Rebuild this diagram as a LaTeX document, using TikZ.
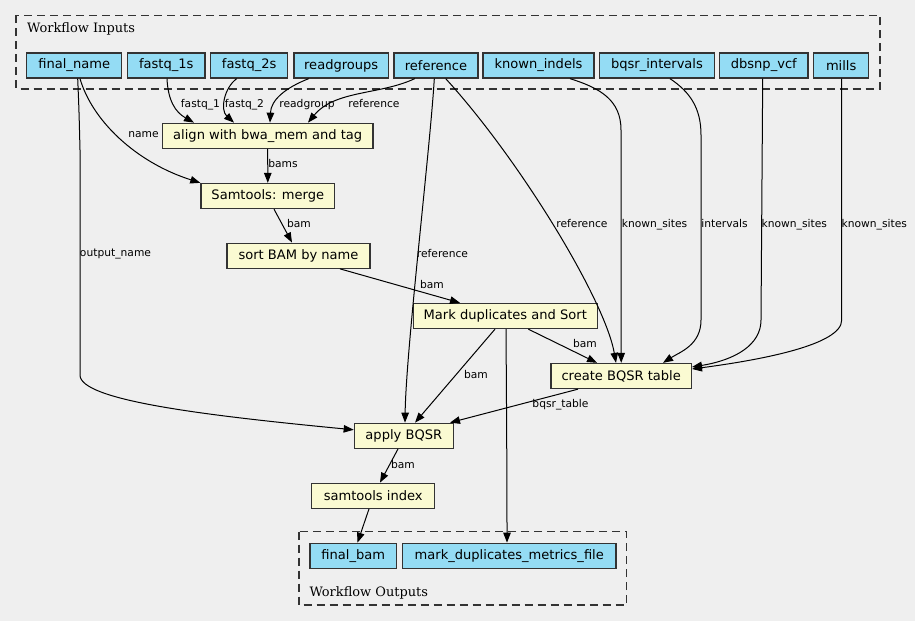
\documentclass[tikz,border=0pt]{standalone}
\usepackage{fontspec}
\setmainfont{DejaVu Sans}
\newfontfamily\clusterfont{DejaVu Serif}
\usetikzlibrary{arrows.meta,calc}
\definecolor{bgcol}{HTML}{EFEFEF}
\definecolor{inblue}{HTML}{94DCF4}
\definecolor{taskyel}{HTML}{FAFAD2}
\definecolor{bord}{HTML}{333333}
\begin{document}
\begin{tikzpicture}[x=1bp,y=-1bp,
  iobox/.style={draw=bord, line width=1.3bp, fill=inblue, minimum height=25bp, inner sep=0pt, font=\fontsize{13.1}{15}\selectfont},
  taskbox/.style={iobox, fill=taskyel},
  cluster/.style={draw=bord, line width=1.2bp, dash pattern=on 8bp off 5bp},
  edge/.style={line width=1bp, -{Triangle[length=10bp,width=7.5bp]}},
  elabel/.style={font=\fontsize{10.75}{12}\selectfont, inner sep=0pt, text height=8bp, text depth=2bp},
  clabel/.style={font=\clusterfont\fontsize{13}{15}\selectfont, inner sep=0pt, anchor=base west}]
\useasboundingbox (0,0) rectangle (915,621);
\fill[bgcol] (0,0) rectangle (915,621);

% clusters
\draw[cluster] (16,15.5) rectangle (880,89);
\node[clabel] (inlbl) at (27,32.3) {Workflow Inputs};
\draw[cluster] (299,531.7) rectangle (626.7,605);
\node[clabel] (outlbl) at (309.3,596) {Workflow Outputs};

% inputs
\node[iobox, minimum width=95bp] (fn) at (74.2,65.5) {final\_name};
\node[iobox, minimum width=77.3bp] (fq1) at (166.3,65.5) {fastq\_1s};
\node[iobox, minimum width=77bp] (fq2) at (249.2,65.5) {fastq\_2s};
\node[iobox, minimum width=94.3bp] (rg) at (341.2,65.5) {readgroups};
\node[iobox, minimum width=84bp] (ref) at (436,65.5) {reference};
\node[iobox, minimum width=111bp] (ki) at (538.5,65.5) {known\_indels};
\node[iobox, minimum width=114.6bp] (bi) at (657,65.5) {bqsr\_intervals};
\node[iobox, minimum width=88.3bp] (db) at (763.8,65.5) {dbsnp\_vcf};
\node[iobox, minimum width=55bp] (mi) at (841.2,65.5) {mills};

% tasks
\node[taskbox, minimum width=210.7bp] (align) at (267.7,135.8) {align with bwa\_mem and tag};
\node[taskbox, minimum width=133.7bp] (merge) at (267.8,196) {Samtools: merge};
\node[taskbox, minimum width=143bp] (sort) at (298.5,255.7) {sort BAM by name};
\node[taskbox, minimum width=184bp] (mdup) at (505.3,316) {Mark duplicates and Sort};
\node[taskbox, minimum width=140.3bp] (table) at (621.2,376) {create BQSR table};
\node[taskbox, minimum width=99bp] (apply) at (403.8,435.8) {apply BQSR};
\node[taskbox, minimum width=123bp] (index) at (373.2,495.8) {samtools index};

% outputs
\node[iobox, minimum width=86.7bp] (fbam) at (353.3,555.8) {final\_bam};
\node[iobox, minimum width=213.3bp] (metrics) at (509.3,555.8) {mark\_duplicates\_metrics\_file};

% edges from inputs
\draw[edge] ([xshift=3.5bp]fn.south) .. controls (79,110) .. (80,150) -- (80,375)
  .. controls (80,400) and (200,415) .. ([yshift=6bp]apply.west);
\draw[edge] ([xshift=5.8bp]fn.south) .. controls (92,120) and (135,162) .. (merge.north west);
\draw[edge] ([xshift=0.7bp]fq1.south) .. controls (168,100) and (175,112) .. ([xshift=-73.7bp]align.north);
\draw[edge] ([xshift=-12.5bp]fq2.south) .. controls (224,88) and (220,110) .. ([xshift=-33.7bp]align.north);
\draw[edge] ([xshift=-32.5bp]rg.south) .. controls (285,88) and (271,100) .. ([xshift=2.3bp]align.north);
\draw[edge] ([xshift=-21.3bp]ref.south) .. controls (380,95) and (335,90) .. ([xshift=40.3bp]align.north);
\draw[edge] ([xshift=-1.7bp]ref.south) .. controls (430,150) and (406,350) .. ([xshift=1.2bp]apply.north);
\draw[edge] ([xshift=9.7bp]ref.south) .. controls (520,160) and (605,300) .. ([xshift=-5.2bp]table.north);
\draw[edge] ([xshift=31.5bp]ki.south) .. controls (600,88) and (621,100) .. (621,130) -- (table.north);
\draw[edge] ([xshift=13bp]bi.south) .. controls (690,92) and (701,108) .. (701,135) -- (701,320)
  .. controls (701,345) and (680,352) .. ([xshift=41.8bp]table.north);
\draw[edge] ([xshift=-1.1bp]db.south) -- (761,320) .. controls (761,345) and (735,360) .. ([yshift=9bp]table.east);
\draw[edge] ([xshift=0.5bp]mi.south) -- (841.7,320) .. controls (842,345) and (760,360) .. ([yshift=7bp]table.east);

% task edges
\draw[edge] (align.south) -- (merge.north);
\draw[edge] ([xshift=6.2bp]merge.south) -- ([xshift=-6.5bp]sort.north);
\draw[edge] ([xshift=41.5bp]sort.south) -- ([xshift=-45.3bp]mdup.north);
\draw[edge] ([xshift=23bp]mdup.south) -- ([xshift=-24.2bp]table.north);
\draw[edge] ([xshift=-10.3bp]mdup.south) -- ([xshift=11.2bp]apply.north);
\draw[edge] ([xshift=0.7bp]mdup.south) .. controls (506.5,400) and (507,480) .. ([xshift=-2.3bp]metrics.north);
\draw[edge] ([xshift=-43.2bp]table.south) -- ([xshift=46.2bp]apply.north);
\draw[edge] ([xshift=-5.8bp]apply.south) -- ([xshift=6.8bp]index.north);
\draw[edge] ([xshift=-4.2bp]index.south) -- ([xshift=4.2bp]fbam.north);

% edge labels
\node[elabel] (l1) at (115.5,254) {output\_name};
\node[elabel] (l2) at (143.5,135) {name};
\node[elabel] (l3) at (200.5,105) {fastq\_1};
\node[elabel] (l4) at (244.5,105) {fastq\_2};
\node[elabel] (l5) at (307,105) {readgroup};
\node[elabel] (l6) at (374,105) {reference};
\node[elabel] (l7) at (283,164.7) {bams};
\node[elabel] (l8) at (299,225) {bam};
\node[elabel] (l9) at (442.5,255) {reference};
\node[elabel] (l10) at (432,285) {bam};
\node[elabel] (l11) at (582,225) {reference};
\node[elabel] (l12) at (654.5,225) {known\_sites};
\node[elabel] (l13) at (724.5,225) {intervals};
\node[elabel] (l14) at (794.3,225) {known\_sites};
\node[elabel] (l15) at (874.3,225) {known\_sites};
\node[elabel] (l16) at (585,344.7) {bam};
\node[elabel] (l17) at (476,375) {bam};
\node[elabel] (l18) at (560.5,404.7) {bqsr\_table};
\node[elabel] (l19) at (403,465) {bam};
\end{tikzpicture}
\end{document}
